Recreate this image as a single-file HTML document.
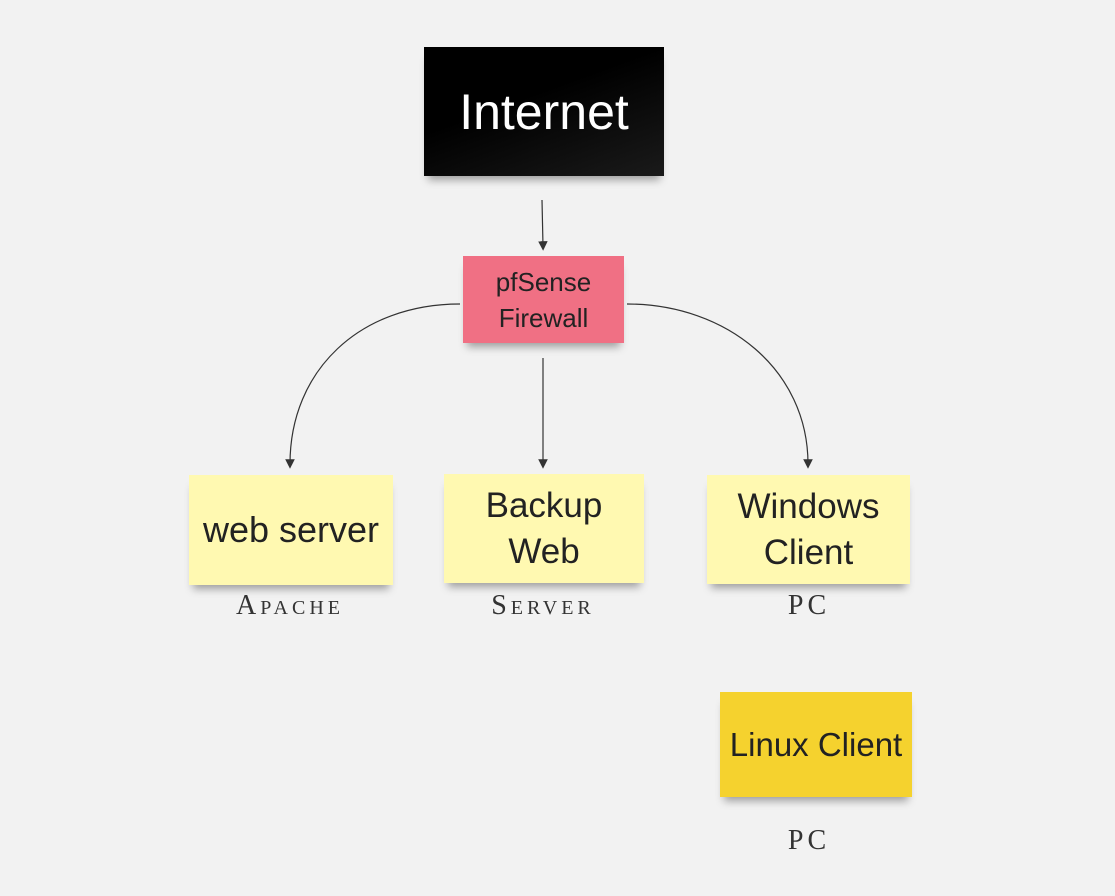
<!DOCTYPE html>
<html><head><style>
body{margin:0;width:1115px;height:896px;background:#f2f2f2;position:relative;overflow:hidden;font-family:"Liberation Sans",sans-serif}
.n{position:absolute;display:flex;align-items:center;justify-content:center;text-align:center;color:#222;box-shadow:0 8px 8px -4px rgba(0,0,0,.35)}
.y{background:#fff9b1;font-size:35px;line-height:46px}
.l{position:absolute;font-family:"Liberation Serif",serif;font-variant:small-caps;font-size:28px;letter-spacing:4px;color:#333;transform:translateX(-50%)}
</style></head><body>
<svg width="1115" height="896" style="position:absolute;left:0;top:0">
<defs><marker id="a" markerWidth="8" markerHeight="8" refX="4" refY="4" orient="auto"><path d="M0,0L8,4L0,8z" fill="#333"/></marker></defs>
<g stroke="#333" stroke-width="1.2" fill="none">
<line x1="542" y1="200" x2="543" y2="246" marker-end="url(#a)"/>
<line x1="543" y1="358" x2="543" y2="464" marker-end="url(#a)"/>
<path d="M460,304 C360,304 290,370 290,464" marker-end="url(#a)"/>
<path d="M627,304 C727,304 808,370 808,464" marker-end="url(#a)"/>
</g></svg>
<div class="n" style="left:424px;top:47px;width:240px;height:129px;background:linear-gradient(160deg,#000 40%,#1a1a1a);color:#fff;font-size:50px">Internet</div>
<div class="n" style="left:463px;top:256px;width:161px;height:87px;background:#f07084;font-size:26px;line-height:36px">pfSense<br>Firewall</div>
<div class="n y" style="left:189px;top:475px;width:204px;height:110px;font-size:36px">web server</div>
<div class="n y" style="left:444px;top:474px;width:200px;height:109px">Backup<br>Web</div>
<div class="n y" style="left:707px;top:475px;width:203px;height:109px">Windows<br>Client</div>
<div class="n" style="left:720px;top:692px;width:192px;height:105px;background:#f5d22e;font-size:33px">Linux Client</div>
<div class="l" style="left:290px;top:590px">Apache</div>
<div class="l" style="left:543px;top:590px">Server</div>
<div class="l" style="left:809px;top:590px">PC</div>
<div class="l" style="left:809px;top:825px">PC</div>
</body></html>
